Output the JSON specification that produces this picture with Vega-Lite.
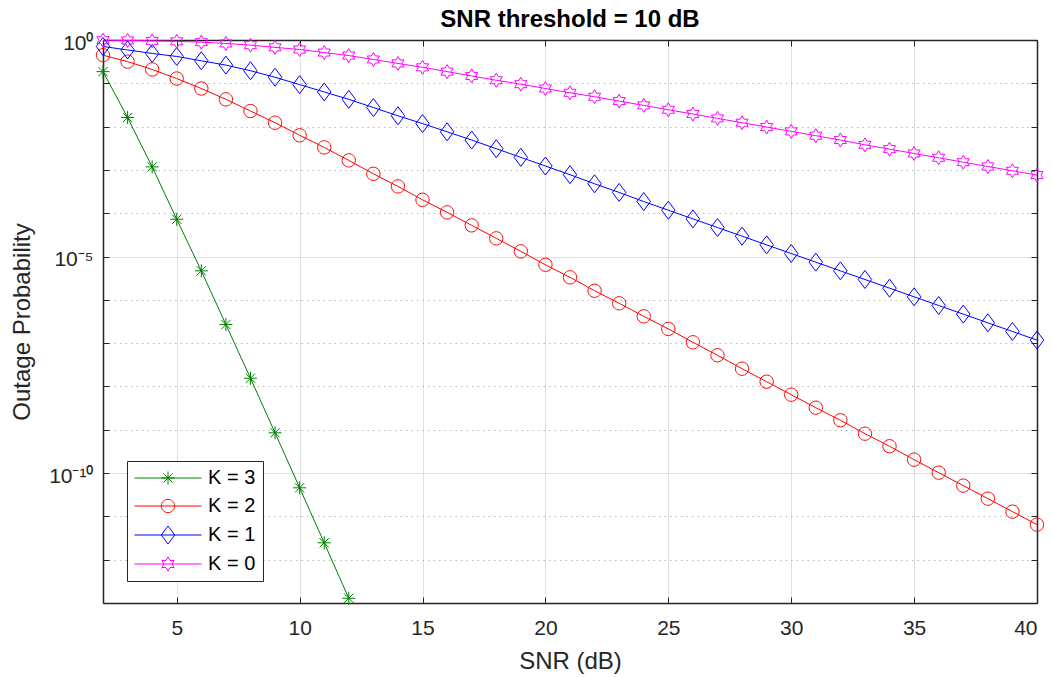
{
  "$schema": "https://vega.github.io/schema/vega-lite/v6.json",
  "width": 934,
  "height": 563,
  "autosize": {"type": "none"},
  "padding": {"left": 103, "top": 40, "right": 15, "bottom": 74},
  "background": "white",
  "config": {"font": "Liberation Sans", "view": {"stroke": null}},
  "title": {"text": "SNR threshold = 10 dB", "fontSize": 24, "fontWeight": "bold", "font": "Liberation Sans", "color": "black", "anchor": "middle", "baseline": "alphabetic", "offset": 10, "dy": 30},
  "data": {"values": [
    {"snr":2,"p":0.186,"K":"K = 3"},{"snr":3,"p":0.01622,"K":"K = 3"},{"snr":4,"p":0.001175,"K":"K = 3"},{"snr":5,"p":7.244e-5,"K":"K = 3"},{"snr":6,"p":4.677e-6,"K":"K = 3"},{"snr":7,"p":2.692e-7,"K":"K = 3"},{"snr":8,"p":1.549e-8,"K":"K = 3"},{"snr":9,"p":8.511e-10,"K":"K = 3"},{"snr":10,"p":4.571e-11,"K":"K = 3"},{"snr":11,"p":2.455e-12,"K":"K = 3"},{"snr":12,"p":1.288e-13,"K":"K = 3"},
    {"snr":2,"p":0.4467,"K":"K = 2"},{"snr":3,"p":0.3162,"K":"K = 2"},{"snr":4,"p":0.2089,"K":"K = 2"},{"snr":5,"p":0.1288,"K":"K = 2"},{"snr":6,"p":0.07586,"K":"K = 2"},{"snr":7,"p":0.04266,"K":"K = 2"},{"snr":8,"p":0.02291,"K":"K = 2"},{"snr":9,"p":0.0123,"K":"K = 2"},{"snr":10,"p":0.00631,"K":"K = 2"},{"snr":11,"p":0.003311,"K":"K = 2"},{"snr":12,"p":0.00166,"K":"K = 2"},{"snr":13,"p":8.128e-4,"K":"K = 2"},{"snr":14,"p":4.169e-4,"K":"K = 2"},{"snr":15,"p":2.042e-4,"K":"K = 2"},{"snr":16,"p":1.047e-4,"K":"K = 2"},{"snr":17,"p":5.248e-5,"K":"K = 2"},{"snr":18,"p":2.63e-5,"K":"K = 2"},{"snr":19,"p":1.318e-5,"K":"K = 2"},{"snr":20,"p":6.457e-6,"K":"K = 2"},{"snr":21,"p":3.311e-6,"K":"K = 2"},{"snr":22,"p":1.622e-6,"K":"K = 2"},{"snr":23,"p":8.318e-7,"K":"K = 2"},{"snr":24,"p":4.169e-7,"K":"K = 2"},{"snr":25,"p":2.138e-7,"K":"K = 2"},{"snr":26,"p":1.047e-7,"K":"K = 2"},{"snr":27,"p":5.248e-8,"K":"K = 2"},{"snr":28,"p":2.57e-8,"K":"K = 2"},{"snr":29,"p":1.288e-8,"K":"K = 2"},{"snr":30,"p":6.457e-9,"K":"K = 2"},{"snr":31,"p":3.236e-9,"K":"K = 2"},{"snr":32,"p":1.66e-9,"K":"K = 2"},{"snr":33,"p":8.128e-10,"K":"K = 2"},{"snr":34,"p":4.169e-10,"K":"K = 2"},{"snr":35,"p":2.042e-10,"K":"K = 2"},{"snr":36,"p":1.023e-10,"K":"K = 2"},{"snr":37,"p":5.129e-11,"K":"K = 2"},{"snr":38,"p":2.57e-11,"K":"K = 2"},{"snr":39,"p":1.288e-11,"K":"K = 2"},{"snr":40,"p":6.457e-12,"K":"K = 2"},
    {"snr":2,"p":0.7079,"K":"K = 1"},{"snr":3,"p":0.5888,"K":"K = 1"},{"snr":4,"p":0.4898,"K":"K = 1"},{"snr":5,"p":0.4169,"K":"K = 1"},{"snr":6,"p":0.3311,"K":"K = 1"},{"snr":7,"p":0.263,"K":"K = 1"},{"snr":8,"p":0.195,"K":"K = 1"},{"snr":9,"p":0.138,"K":"K = 1"},{"snr":10,"p":0.09333,"K":"K = 1"},{"snr":11,"p":0.0631,"K":"K = 1"},{"snr":12,"p":0.04266,"K":"K = 1"},{"snr":13,"p":0.02754,"K":"K = 1"},{"snr":14,"p":0.01778,"K":"K = 1"},{"snr":15,"p":0.01175,"K":"K = 1"},{"snr":16,"p":0.007586,"K":"K = 1"},{"snr":17,"p":0.004898,"K":"K = 1"},{"snr":18,"p":0.00309,"K":"K = 1"},{"snr":19,"p":0.00195,"K":"K = 1"},{"snr":20,"p":0.00123,"K":"K = 1"},{"snr":21,"p":7.762e-4,"K":"K = 1"},{"snr":22,"p":4.786e-4,"K":"K = 1"},{"snr":23,"p":3.02e-4,"K":"K = 1"},{"snr":24,"p":1.862e-4,"K":"K = 1"},{"snr":25,"p":1.175e-4,"K":"K = 1"},{"snr":26,"p":7.413e-5,"K":"K = 1"},{"snr":27,"p":4.677e-5,"K":"K = 1"},{"snr":28,"p":2.951e-5,"K":"K = 1"},{"snr":29,"p":1.862e-5,"K":"K = 1"},{"snr":30,"p":1.175e-5,"K":"K = 1"},{"snr":31,"p":7.413e-6,"K":"K = 1"},{"snr":32,"p":4.677e-6,"K":"K = 1"},{"snr":33,"p":2.951e-6,"K":"K = 1"},{"snr":34,"p":1.862e-6,"K":"K = 1"},{"snr":35,"p":1.175e-6,"K":"K = 1"},{"snr":36,"p":7.413e-7,"K":"K = 1"},{"snr":37,"p":4.677e-7,"K":"K = 1"},{"snr":38,"p":2.951e-7,"K":"K = 1"},{"snr":39,"p":1.862e-7,"K":"K = 1"},{"snr":40,"p":1.175e-7,"K":"K = 1"},
    {"snr":2,"p":0.991,"K":"K = 0"},{"snr":3,"p":0.977,"K":"K = 0"},{"snr":4,"p":0.955,"K":"K = 0"},{"snr":5,"p":0.933,"K":"K = 0"},{"snr":6,"p":0.891,"K":"K = 0"},{"snr":7,"p":0.832,"K":"K = 0"},{"snr":8,"p":0.759,"K":"K = 0"},{"snr":9,"p":0.676,"K":"K = 0"},{"snr":10,"p":0.603,"K":"K = 0"},{"snr":11,"p":0.513,"K":"K = 0"},{"snr":12,"p":0.437,"K":"K = 0"},{"snr":13,"p":0.355,"K":"K = 0"},{"snr":14,"p":0.288,"K":"K = 0"},{"snr":15,"p":0.234,"K":"K = 0"},{"snr":16,"p":0.186,"K":"K = 0"},{"snr":17,"p":0.148,"K":"K = 0"},{"snr":18,"p":0.1175,"K":"K = 0"},{"snr":19,"p":0.0955,"K":"K = 0"},{"snr":20,"p":0.0759,"K":"K = 0"},{"snr":21,"p":0.0603,"K":"K = 0"},{"snr":22,"p":0.049,"K":"K = 0"},{"snr":23,"p":0.0389,"K":"K = 0"},{"snr":24,"p":0.0309,"K":"K = 0"},{"snr":25,"p":0.0245,"K":"K = 0"},{"snr":26,"p":0.0195,"K":"K = 0"},{"snr":27,"p":0.0155,"K":"K = 0"},{"snr":28,"p":0.0123,"K":"K = 0"},{"snr":29,"p":0.00977,"K":"K = 0"},{"snr":30,"p":0.00776,"K":"K = 0"},{"snr":31,"p":0.00617,"K":"K = 0"},{"snr":32,"p":0.0049,"K":"K = 0"},{"snr":33,"p":0.0038,"K":"K = 0"},{"snr":34,"p":0.00302,"K":"K = 0"},{"snr":35,"p":0.0024,"K":"K = 0"},{"snr":36,"p":0.00191,"K":"K = 0"},{"snr":37,"p":0.00151,"K":"K = 0"},{"snr":38,"p":0.0012,"K":"K = 0"},{"snr":39,"p":9.55e-4,"K":"K = 0"},{"snr":40,"p":7.59e-4,"K":"K = 0"}
  ]},
  "layer": [
    {
      "mark": {"type": "line", "strokeWidth": 1},
      "encoding": {
        "x": {"field": "snr", "type": "quantitative", "scale": {"domain": [2, 40], "nice": false, "zero": false},
          "axis": {"orient": "bottom", "values": [5,10,15,20,25,30,35,40], "tickSize": -6, "tickColor": "#262626", "domainColor": "#262626", "domainWidth": 1.5, "labelFontSize": 21, "labelColor": "#262626", "labelPadding": 20, "grid": true, "gridColor": "#e0e0e0", "gridWidth": 1, "title": "SNR (dB)", "titleFontSize": 24, "titleFontWeight": "normal", "titleColor": "#262626", "titleBaseline": "alphabetic", "titleY": 65, "titleX": 467, "titleAlign": "center"}},
        "y": {"field": "p", "type": "quantitative", "scale": {"type": "log", "domain": [1e-13, 1], "nice": false},
          "axis": {"orient": "left", "values": [1,0.1,0.01,0.001,1e-4,1e-5,1e-6,1e-7,1e-8,1e-9,1e-10,1e-11,1e-12,1e-13],
            "labelExpr": "datum.value == 1 ? '10⁰' : datum.value == 1e-5 ? '10⁻⁵' : datum.value == 1e-10 ? '10⁻¹⁰' : ''",
            "tickSize": -6, "tickColor": "#262626", "domainColor": "#262626", "domainWidth": 1.5, "labelFontSize": 21, "labelColor": "#262626", "labelPadding": 16, "labelOffset": 3,
            "grid": true,
            "gridColor": {"condition": {"test": "datum.value == 1 || datum.value == 1e-5 || datum.value == 1e-10", "value": "#e0e0e0"}, "value": "#b8b8b8"},
            "gridDash": {"condition": {"test": "datum.value == 1 || datum.value == 1e-5 || datum.value == 1e-10", "value": []}, "value": [1.5, 4]},
            "title": "Outage Probability", "titleFontSize": 24, "titleFontWeight": "normal", "titleColor": "#262626", "titleBaseline": "alphabetic", "titleAngle": -90, "titleX": -74, "titleY": 281.5, "titleAlign": "center"}},
        "color": {"field": "K", "type": "nominal", "scale": {"domain": ["K = 3", "K = 2", "K = 1", "K = 0"], "range": ["#008000", "#ff0000", "#0000ff", "#ff00ff"]}, "legend": null}
      }
    },
    {
      "mark": {"type": "point", "filled": false, "strokeWidth": 1, "size": 100, "opacity": 1},
      "encoding": {
        "x": {"field": "snr", "type": "quantitative",
          "axis": {"orient": "top", "values": [5,10,15,20,25,30,35,40], "labels": false, "grid": false, "tickSize": -6, "tickColor": "#262626", "domainColor": "#262626", "domainWidth": 1.5, "title": null}},
        "y": {"field": "p", "type": "quantitative",
          "axis": {"orient": "right", "values": [1,0.1,0.01,0.001,1e-4,1e-5,1e-6,1e-7,1e-8,1e-9,1e-10,1e-11,1e-12,1e-13], "labels": false, "grid": false, "tickSize": -6, "tickColor": "#262626", "domainColor": "#262626", "domainWidth": 1.5, "title": null}},
        "color": {"field": "K", "type": "nominal", "scale": {"domain": ["K = 3", "K = 2", "K = 1", "K = 0"], "range": ["#008000", "#ff0000", "#0000ff", "#ff00ff"]}, "legend": null},
        "shape": {"field": "K", "type": "nominal", "scale": {"domain": ["K = 3", "K = 2", "K = 1", "K = 0"], "range": ["M-1.3,0L1.3,0M0,-1.3L0,1.3M-0.92,-0.92L0.92,0.92M-0.92,0.92L0.92,-0.92", "M1.33,0A1.33,1.33,0,1,1,-1.33,0A1.33,1.33,0,1,1,1.33,0", "M-1.35,0L0,-1.8L1.35,0L0,1.8Z", "M0,-1.4L0.404,-0.7L1.212,-0.7L0.808,0L1.212,0.7L0.404,0.7L0,1.4L-0.404,0.7L-1.212,0.7L-0.808,0L-1.212,-0.7L-0.404,-0.7Z"]}, "legend": null}
      }
    },
    {
      "mark": {"type": "point", "filled": false, "strokeWidth": 1, "size": 100, "opacity": 0},
      "encoding": {
        "x": {"field": "snr", "type": "quantitative", "axis": null},
        "y": {"field": "p", "type": "quantitative", "axis": null},
        "color": {"field": "K", "type": "nominal", "scale": {"domain": ["K = 3", "K = 2", "K = 1", "K = 0"], "range": ["#008000", "#ff0000", "#0000ff", "#ff00ff"]},
          "legend": {"title": null, "orient": "none", "legendX": 24, "legendY": 421, "padding": 7, "fillColor": "white", "strokeColor": "#262626", "labelFontSize": 20, "labelFont": "Liberation Sans", "labelColor": "black", "rowPadding": 8, "symbolSize": 100, "symbolOffset": 24, "labelOffset": 30, "symbolStrokeWidth": 1, "symbolOpacity": 1}},
        "shape": {"field": "K", "type": "nominal", "scale": {"domain": ["K = 3", "K = 2", "K = 1", "K = 0"], "range": ["M-6.7,0L6.7,0M-1.3,0L1.3,0M0,-1.3L0,1.3M-0.92,-0.92L0.92,0.92M-0.92,0.92L0.92,-0.92", "M-6.7,0L6.7,0M1.33,0A1.33,1.33,0,1,1,-1.33,0A1.33,1.33,0,1,1,1.33,0", "M-6.7,0L6.7,0M-1.35,0L0,-1.8L1.35,0L0,1.8Z", "M-6.7,0L6.7,0M0,-1.4L0.404,-0.7L1.212,-0.7L0.808,0L1.212,0.7L0.404,0.7L0,1.4L-0.404,0.7L-1.212,0.7L-0.808,0L-1.212,-0.7L-0.404,-0.7Z"]},
          "legend": {"title": null, "orient": "none", "legendX": 24, "legendY": 421, "padding": 7, "fillColor": "white", "strokeColor": "#262626", "labelFontSize": 20, "labelFont": "Liberation Sans", "labelColor": "black", "rowPadding": 8, "symbolSize": 100, "symbolOffset": 24, "labelOffset": 30, "symbolStrokeWidth": 1, "symbolOpacity": 1}}
      }
    }
  ],
  "resolve": {"scale": {"color": "independent", "shape": "independent"}, "axis": {"x": "independent", "y": "independent"}}
}
